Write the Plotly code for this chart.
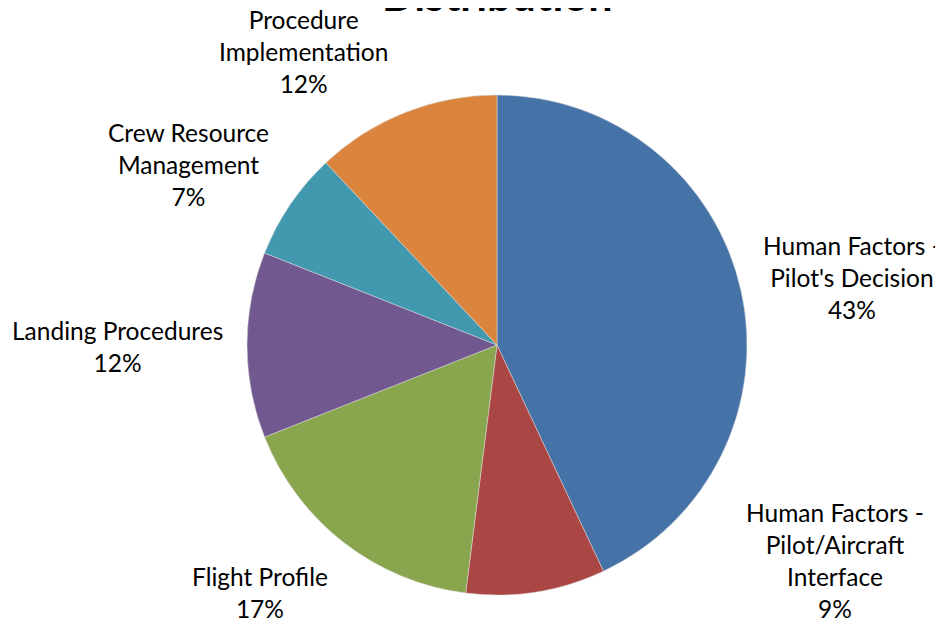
import plotly.graph_objects as go

categories = ["Human Factors -<br>Pilot's Decision",
              "Human Factors -<br>Pilot/Aircraft<br>Interface",
              "Flight Profile",
              "Landing Procedures",
              "Crew Resource<br>Management",
              "Procedure<br>Implementation"]
shares = [43, 9, 17, 12, 7, 12]
colors = ["#4572A7", "#AA4643", "#89A54E", "#71588F", "#4198AF", "#DB843D"]

# label block centres in screen pixels, Excel-like placement
label_pos = [(852, 277), (835, 560), (260, 592), (117, 347), (188, 164), (303, 52)]

# page body has an 8px margin, so work in figure pixels = screen - 8
OFF = 8
W, H = 943 - OFF, 621 - OFF
FONT = "Lato"


def px(x):
    return (x - OFF) / W


def py(y):
    return 1 - (y - OFF) / H


fig = go.Figure(go.Pie(
    labels=categories,
    values=shares,
    sort=False,
    direction="clockwise",
    rotation=0,
    marker=dict(colors=colors, line=dict(width=0.5, color="#dddddd")),
    textinfo="none",
    hoverinfo="label+percent",
    domain=dict(x=[px(247), px(747)], y=[py(595), py(95)]),
    showlegend=False,
))

ann = []
for cat, v, (x, y) in zip(categories, shares, label_pos):
    ann.append(dict(
        text=f"{cat}<br>{v}%", x=px(x), y=py(y), xref="paper", yref="paper",
        xanchor="center", yanchor="middle", showarrow=False, align="center",
        font=dict(family=FONT, size=24.5, color="#000000"),
    ))

ann.append(dict(
    text="<b>Distribution</b>", x=px(497), y=py(22), xref="paper", yref="paper",
    xanchor="center", yanchor="bottom", showarrow=False,
    font=dict(family=FONT, size=43, color="#000000"),
))

fig.update_layout(
    width=W, height=H,
    margin=dict(l=0, r=0, t=0, b=0),
    paper_bgcolor="white",
    annotations=ann,
)

fig.write_html("out.html")
